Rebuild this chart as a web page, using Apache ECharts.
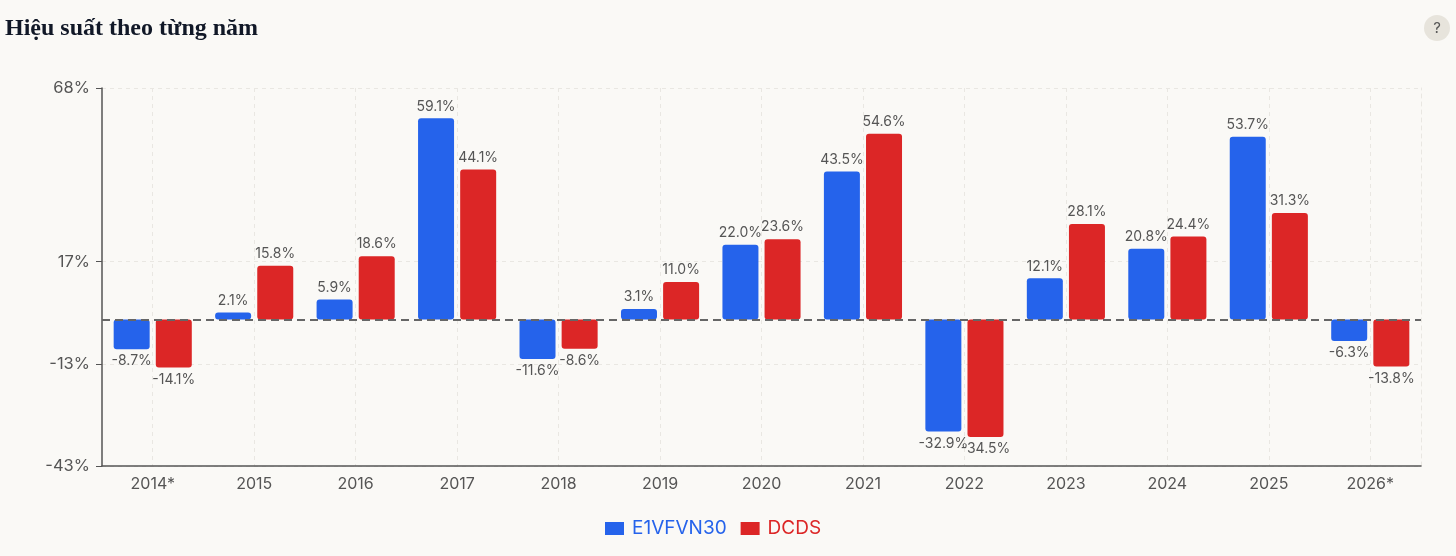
<!DOCTYPE html>
<html>
<head>
    <meta charset="UTF-8">
    <title>Hiệu suất theo từng năm</title>
    <script type="text/javascript" src="https://cdn.jsdelivr.net/npm/echarts@6/dist/echarts.min.js"></script>
    <style>
        html, body { margin: 0; padding: 0; background: #faf9f6; }
        #chart { width: 1456px; height: 556px; }
    </style>
</head>
<body>
<div id="chart"></div>
<script>
    var years = ['2014*', '2015', '2016', '2017', '2018', '2019', '2020', '2021', '2022', '2023', '2024', '2025', '2026*'];
    var e1vfvn30 = [-8.7, 2.1, 5.9, 59.1, -11.6, 3.1, 22.0, 43.5, -32.9, 12.1, 20.8, 53.7, -6.3];
    var dcds = [-14.1, 15.8, 18.6, 44.1, -8.6, 11.0, 23.6, 54.6, -34.5, 28.1, 24.4, 31.3, -13.8];
    var yTicks = [-43, -13, 17, 68];

    var blue = '#2563eb', red = '#dc2626';

    function pct(v) {
        return v.toFixed(1) + '%';
    }

    function barSeries(name, values, color) {
        return {
            name: name,
            type: 'bar',
            barWidth: 36,
            barGap: '17%',
            itemStyle: { color: color, borderRadius: 3 },
            data: values.map(function (v) {
                return {
                    value: v,
                    label: { position: v < 0 ? 'bottom' : 'top' }
                };
            }),
            label: {
                show: true,
                formatter: function (p) { return pct(p.value); },
                color: '#555',
                fontSize: 14,
                fontFamily: 'Inter',
                distance: 5
            }
        };
    }

    var chart = echarts.init(document.getElementById('chart'));
    var series = [barSeries('E1VFVN30', e1vfvn30, blue), barSeries('DCDS', dcds, red)];
    // đường 0 nét đứt
    series[1].markLine = {
        silent: true,
        symbol: 'none',
        label: { show: false },
        lineStyle: { color: '#666', width: 2, type: [8, 5] },
        data: [{ yAxis: 0 }]
    };

    chart.setOption({
        backgroundColor: '#faf9f6',
        animation: false,
        textStyle: { fontFamily: 'Inter' },
        title: {
            text: 'Hiệu suất theo từng năm',
            left: 0,
            top: 12,
            textStyle: { fontFamily: 'Liberation Serif', fontWeight: 'bold', fontSize: 24, color: '#111827' }
        },
        graphic: [{
            type: 'group',
            right: 6,
            top: 15,
            children: [
                { type: 'circle', shape: { cx: 13, cy: 13, r: 13 }, style: { fill: '#e7e4dc' } },
                { type: 'text', x: 13, y: 13, style: { text: '?', fill: '#555', font: '15px Inter', align: 'center', verticalAlign: 'middle' } }
            ]
        }],
        legend: {
            left: 600,
            top: 514,
            itemWidth: 19,
            itemHeight: 13,
            itemGap: 14,
            icon: 'rect',
            textStyle: { fontSize: 19, fontFamily: 'Inter', padding: [0, 0, 0, 3] },
            data: [
                { name: 'E1VFVN30', textStyle: { color: blue } },
                { name: 'DCDS', textStyle: { color: red } }
            ]
        },
        grid: { left: 102, right: 35, top: 88, bottom: 90, containLabel: false },
        xAxis: {
            type: 'category',
            data: years,
            axisLine: { onZero: false, lineStyle: { color: '#555', width: 1.5 } },
            axisTick: { alignWithLabel: true, length: 6, lineStyle: { color: '#555' } },
            axisLabel: { color: '#555', fontSize: 16, margin: 10 },
            splitLine: { show: true, alignWithLabel: true, lineStyle: { color: '#e9e7e2', type: [4, 4] } }
        },
        yAxis: [{
            type: 'value',
            min: -43,
            max: 68,
            axisLine: { show: true, lineStyle: { color: '#555', width: 1.5 } },
            axisTick: { show: true, length: 6, customValues: yTicks, lineStyle: { color: '#555' } },
            axisLabel: {
                customValues: yTicks,
                color: '#555',
                fontSize: 16.5,
                margin: 12,
                formatter: function (v) { return v + '%'; }
            },
            splitLine: { show: true, lineStyle: { color: '#e9e7e2', type: [4, 4] } }
        }, {
            type: 'value',
            position: 'right',
            min: -43,
            max: 68,
            axisLine: { show: true, lineStyle: { color: '#e9e7e2', type: [4, 4] } },
            axisTick: { show: false },
            axisLabel: { show: false },
            splitLine: { show: false }
        }],
        series: series
    });
</script>
</body>
</html>
